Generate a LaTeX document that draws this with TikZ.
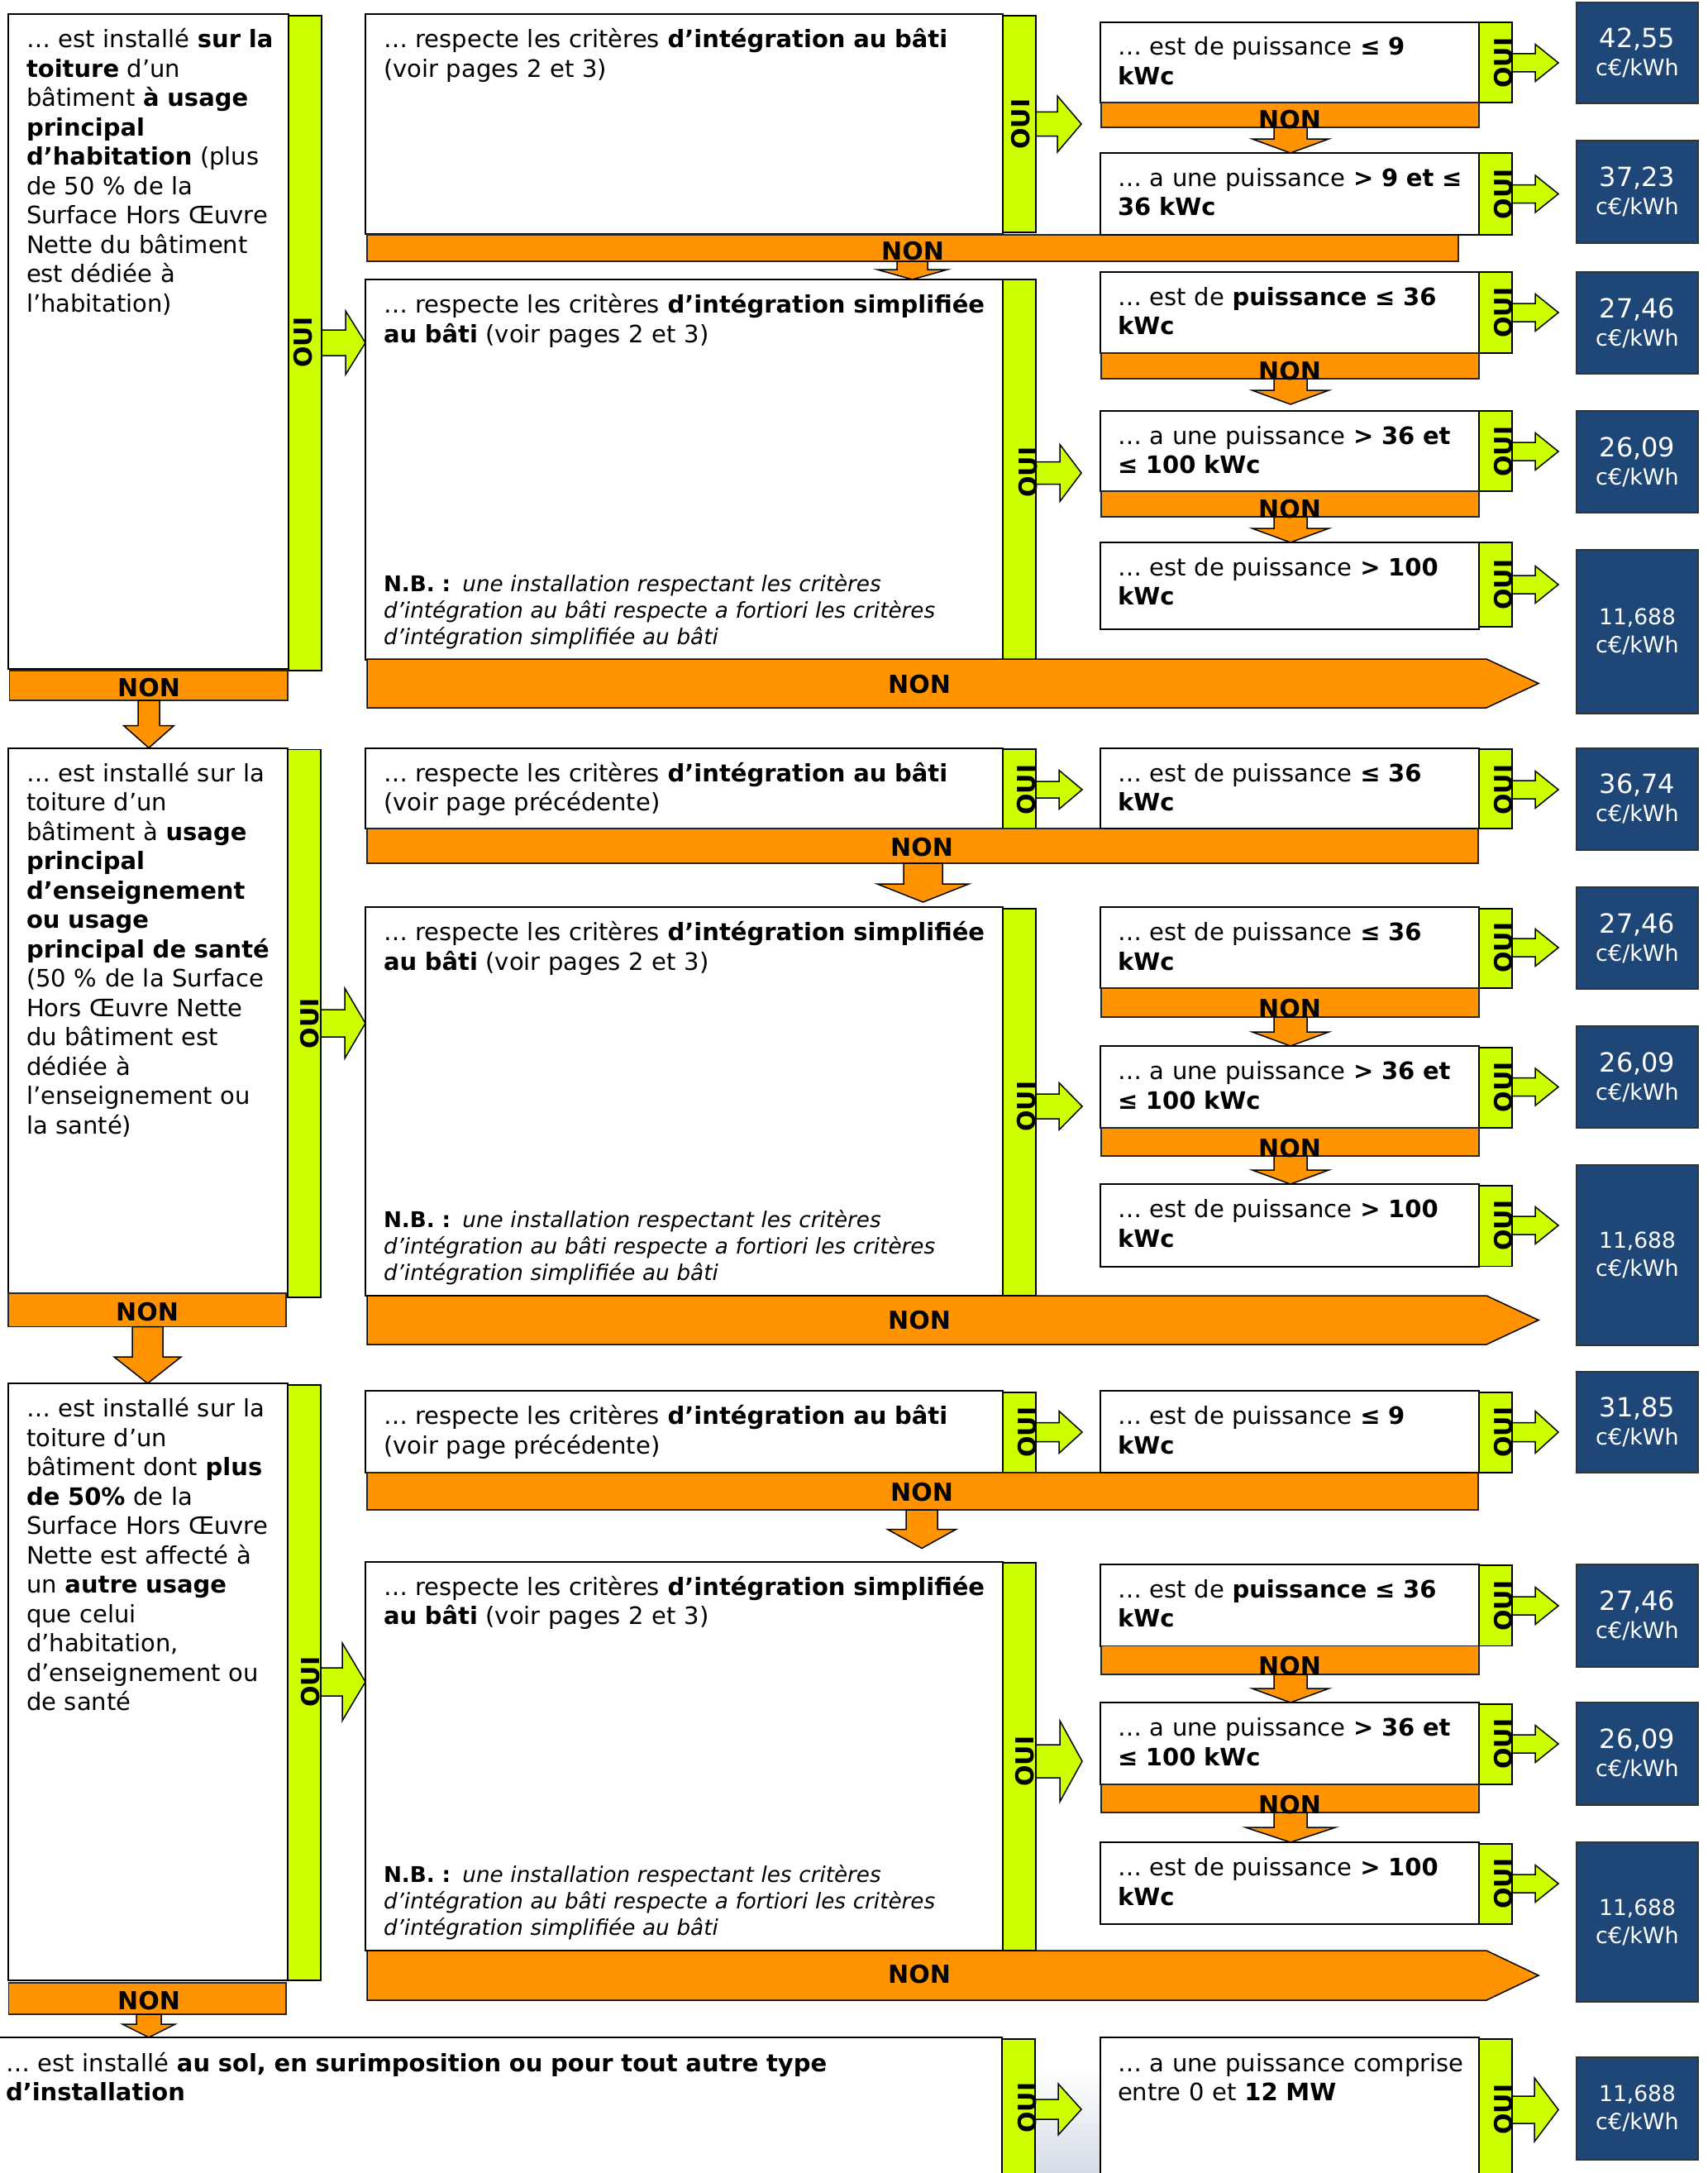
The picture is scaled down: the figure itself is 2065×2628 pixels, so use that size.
\documentclass[tikz,border=0pt]{standalone}
\usepackage{fontspec}
\setmainfont{DejaVu Sans}
\usetikzlibrary{calc}
\definecolor{orng}{RGB}{255,148,0}
\definecolor{limeg}{RGB}{204,255,0}
\definecolor{navyb}{RGB}{30,70,118}
\definecolor{bgblue}{RGB}{214,221,231}
\tikzset{
  boxst/.style={rectangle, draw=black, line width=2pt, fill=white, inner sep=0pt, outer sep=0pt, anchor=north west},
  gbar/.style={rectangle, draw=black, line width=1.8pt, fill=limeg, inner sep=0pt, outer sep=0pt, anchor=north west},
  obar/.style={rectangle, draw=black!85, line width=1.6pt, fill=orng, inner sep=0pt, outer sep=0pt, anchor=north west},
  pbox/.style={rectangle, draw=black!80, line width=2pt, fill=navyb, inner sep=0pt, outer sep=0pt, anchor=north west},
  txt/.style={font=\fontsize{29}{35.5}\selectfont, align=left, text width=1150pt, inner sep=0pt, outer sep=0pt, anchor=north west},
  nbtxt/.style={font=\fontsize{26.2}{32.3}\selectfont, align=left, text width=1000pt, inner sep=0pt, outer sep=0pt, anchor=north west},
  ptxt/.style={font=\fontsize{27}{34}\selectfont, text=white, align=center, text width=147pt, inner sep=0pt},
  ouist/.style={font=\bfseries\fontsize{30}{30}\selectfont, rotate=90, anchor=base, inner sep=0pt},
  nonst/.style={font=\bfseries\fontsize{30}{30}\selectfont, anchor=base, inner sep=0pt},
  garr/.style={draw=black, line width=1.5pt, fill=limeg, line join=miter},
  oarr/.style={draw=black, line width=1.5pt, fill=orng, line join=miter},
}
% rectangle node: style, x1, y1, x2, y2, name
\newcommand\mkrect[6]{\node[#1, minimum width={#4-(#2)}, minimum height={#5-(#3)}] (#6) at (#2,#3) {};}
% text block: name, x, first baseline, text
\newcommand\mktxt[4]{\node[txt] (#1) at (#2,#3-24.85) {\strut #4};}
% N.B. block: name, x, first baseline
\newcommand\mknb[3]{\node[nbtxt] (#1) at (#2,#3-22.61) {\strut\textbf{N.B. :}\hspace{0.55em}\textit{une installation respectant les critères}\\\textit{d’intégration au bâti respecte a fortiori les critères}\\\textit{d’intégration simplifiée au bâti}};}
% price box: name, top, bottom, value, value size
\newcommand\mkprice[5]{\node[pbox, minimum width=147, minimum height={#3-(#2)}] (#1) at (1907,#2) {};
  \node[ptxt] (#1t) at (#1.center) {{\fontsize{#5}{34}\selectfont #4}\\c€/kWh};}
\newcommand\mkoui[3]{\node[ouist] (#1) at (#2,#3) {OUI};}
\newcommand\mknon[3]{\node[nonst] (#1) at (#2,#3) {NON};}
% green arrow to the right: from, to, yc, shaft half, head half, head length, gap
\newcommand\garrowR[7]{\draw[garr] let \p1=(#1.east |- 0,#3), \p2=(#2.west |- 0,#3) in
  (\x1,\y1+#4pt) -- (\x2-#7pt-#6pt,\y1+#4pt) -- (\x2-#7pt-#6pt,\y1+#5pt) -- (\x2-#7pt,\y1)
  -- (\x2-#7pt-#6pt,\y1-#5pt) -- (\x2-#7pt-#6pt,\y1-#4pt) -- (\x1,\y1-#4pt) -- cycle;}
% orange arrow downwards: from, to, xc, shaft half, head half, head length, gap
\newcommand\oarrowD[7]{\draw[oarr] let \p1=(#1.south -| #3,0), \p2=(#2.north -| #3,0) in
  (\x1-#4pt,\y1) -- (\x1-#4pt,\y2+#7pt+#6pt) -- (\x1-#5pt,\y2+#7pt+#6pt) -- (\x1,\y2+#7pt)
  -- (\x1+#5pt,\y2+#7pt+#6pt) -- (\x1+#4pt,\y2+#7pt+#6pt) -- (\x1+#4pt,\y1) -- cycle;}
% big NON arrow: name, top, bottom, text baseline
\newcommand\bignon[4]{\draw[oarr] (444,#2) -- (1798,#2) -- (1861,{(#2+#3)/2}) -- (1798,#3) -- (444,#3) -- cycle;
  \node[nonst] (#1) at (1112,#4) {NON};}
\newcommand\rarr[3]{\garrowR{#1}{#2}{#3}{11}{22.5}{28}{22}}
\newcommand\rdown[3]{\oarrowD{#1}{#2}{1561}{20}{46.5}{17}{#3}}

\begin{document}
\begin{tikzpicture}[x=1pt,y=-1pt]
\useasboundingbox (0,0) rectangle (2065,2628);
\clip (0,0) rectangle (2065,2628);
\fill[white] (0,0) rectangle (2065,2628);
\shade[top color=white, bottom color=bgblue] (1252,2500) rectangle (1331,2628);

% ================= boxes and bars =================
% Section 1
\mkrect{boxst}{10}{17}{349}{809}{lbox1}
\mkrect{gbar}{349}{19}{389}{811}{lbar1}
\mkrect{obar}{11.5}{811}{348}{847}{lnon1}
\mkrect{boxst}{442}{17}{1213}{283}{mb1}
\mkrect{gbar}{1213}{19}{1253}{281}{mbar1a}
\mkrect{obar}{444}{284}{1764}{316}{mnon1}
\mkrect{boxst}{442}{338}{1213}{798}{ms1}
\mkrect{gbar}{1213}{338}{1253}{798}{mbar1b}
\mkrect{boxst}{1331}{27}{1789}{124}{r1a}
\mkrect{gbar}{1789}{27}{1829}{124}{rb1a}
\mkrect{obar}{1332}{124}{1789}{154}{rn1a}
\mkrect{boxst}{1331}{185}{1789}{284}{r1b}
\mkrect{gbar}{1789}{185}{1829}{284}{rb1b}
\mkrect{boxst}{1331}{329}{1789}{427}{r1c}
\mkrect{gbar}{1789}{329}{1829}{427}{rb1c}
\mkrect{obar}{1332}{427}{1789}{458}{rn1c}
\mkrect{boxst}{1331}{497}{1789}{594}{r1d}
\mkrect{gbar}{1789}{497}{1829}{594}{rb1d}
\mkrect{obar}{1332}{594}{1789}{625}{rn1d}
\mkrect{boxst}{1331}{656}{1789}{761}{r1e}
\mkrect{gbar}{1789}{656}{1829}{758}{rb1e}
\mkprice{p1a}{3}{125}{42,55}{32}
\mkprice{p1b}{170}{294}{37,23}{32}
\mkprice{p1c}{329}{452}{27,46}{32}
\mkprice{p1d}{497}{620}{26,09}{32}
\mkprice{p1e}{665}{863}{11,688}{26.5}
% Section 2
\mkrect{boxst}{10}{904.5}{348}{1564}{lbox2}
\mkrect{gbar}{348}{906.5}{388}{1569}{lbar2}
\mkrect{obar}{10}{1564}{346}{1604.5}{lnon2}
\mkrect{boxst}{442}{904.5}{1213}{1002}{mb2}
\mkrect{gbar}{1213}{906}{1253}{1002}{mbar2a}
\mkrect{obar}{444}{1002}{1788}{1044}{mnon2}
\mkrect{boxst}{442}{1097}{1213}{1567}{ms2}
\mkrect{gbar}{1213}{1099}{1253}{1567}{mbar2b}
\mkrect{boxst}{1331}{904.5}{1789}{1002}{r2a}
\mkrect{gbar}{1789}{906}{1829}{1002}{rb2a}
\mkrect{boxst}{1331}{1097}{1789}{1195}{r2b}
\mkrect{gbar}{1789}{1099}{1829}{1195}{rb2b}
\mkrect{obar}{1332}{1195}{1789}{1230}{rn2b}
\mkrect{boxst}{1331}{1265}{1789}{1364}{r2c}
\mkrect{gbar}{1789}{1267}{1829}{1364}{rb2c}
\mkrect{obar}{1332}{1364}{1789}{1398}{rn2c}
\mkrect{boxst}{1331}{1432}{1789}{1531.5}{r2d}
\mkrect{gbar}{1789}{1434}{1829}{1531.5}{rb2d}
\mkprice{p2a}{904.5}{1028}{36,74}{32}
\mkprice{p2b}{1073}{1196}{27,46}{32}
\mkprice{p2c}{1241}{1364}{26,09}{32}
\mkprice{p2d}{1409}{1627}{11,688}{26.5}
% Section 3
\mkrect{boxst}{10}{1673}{348}{2395}{lbox3}
\mkrect{gbar}{348}{1675}{388}{2395}{lbar3}
\mkrect{obar}{10.5}{2398}{346}{2436}{lnon3}
\mkrect{boxst}{442}{1682}{1213}{1781}{mb3}
\mkrect{gbar}{1213}{1684}{1253}{1781}{mbar3a}
\mkrect{obar}{444}{1781}{1788}{1826}{mnon3}
\mkrect{boxst}{442}{1888.5}{1213}{2359}{ms3}
\mkrect{gbar}{1213}{1890}{1253}{2359}{mbar3b}
\mkrect{boxst}{1331}{1682}{1789}{1781}{r3a}
\mkrect{gbar}{1789}{1684}{1829}{1781}{rb3a}
\mkrect{boxst}{1331}{1891.5}{1789}{1990.5}{r3b}
\mkrect{gbar}{1789}{1893}{1829}{1990.5}{rb3b}
\mkrect{obar}{1332}{1990.5}{1789}{2025}{rn3b}
\mkrect{boxst}{1331}{2059}{1789}{2158}{r3c}
\mkrect{gbar}{1789}{2061}{1829}{2158}{rb3c}
\mkrect{obar}{1332}{2158}{1789}{2192}{rn3c}
\mkrect{boxst}{1331}{2228}{1789}{2327}{r3d}
\mkrect{gbar}{1789}{2230}{1829}{2327}{rb3d}
\mkprice{p3a}{1659}{1781}{31,85}{32}
\mkprice{p3b}{1891.5}{2016}{27,46}{32}
\mkprice{p3c}{2059}{2183}{26,09}{32}
\mkprice{p3d}{2228}{2421}{11,688}{26.5}
% Section 4
\mkrect{boxst}{-3}{2464}{1212}{2640}{s4}
\mkrect{gbar}{1212}{2466}{1252}{2640}{mbar4}
\mkrect{boxst}{1331}{2464}{1789}{2640}{r4}
\mkrect{gbar}{1789}{2466}{1829}{2640}{rb4}
\mkprice{p4}{2488}{2612}{11,688}{26.5}

% ================= big NON arrows =================
\bignon{bnon1}{797}{856}{838}
\bignon{bnon2}{1567}{1626}{1607}
\bignon{bnon3}{2359}{2419}{2398}

% ================= OUI arrows =================
\garrowR{lbar1}{ms1}{414.5}{15.5}{38.5}{24}{0}
\garrowR{mbar1a}{r1a}{150}{14.5}{34}{29}{23}
\garrowR{mbar1b}{r1c}{572}{13.5}{34.5}{26}{23}
\rarr{rb1a}{p1a}{76}
\rarr{rb1b}{p1b}{234.5}
\rarr{rb1c}{p1c}{378}
\rarr{rb1d}{p1d}{546}
\rarr{rb1e}{p1e}{707}
\garrowR{lbar2}{ms2}{1237.5}{16.5}{42.5}{25}{0}
\garrowR{mbar2a}{r2a}{955}{10}{23.5}{28}{22}
\garrowR{mbar2b}{r2b}{1338}{15}{28.5}{28}{22}
\rarr{rb2a}{p2a}{955}
\rarr{rb2b}{p2b}{1146}
\rarr{rb2c}{p2c}{1314.5}
\rarr{rb2d}{p2d}{1482}
\garrowR{lbar3}{ms3}{2034}{17}{47}{28}{0}
\garrowR{mbar3a}{r3a}{1732}{11.5}{25.5}{28}{22}
\garrowR{mbar3b}{r3b}{2130}{20}{49}{27}{22}
\garrowR{rb3a}{p3a}{1732}{11.5}{25.5}{28}{22}
\rarr{rb3b}{p3b}{1942}
\rarr{rb3c}{p3c}{2109}
\rarr{rb3d}{p3d}{2278}
\garrowR{mbar4}{r4}{2551}{12}{31}{28}{23}
\garrowR{rb4}{p4}{2551.5}{16.5}{38.5}{29}{22}

% ================= NON arrows =================
\oarrowD{lnon1}{lbox2}{180}{13}{30.5}{27}{0}
\oarrowD{mnon1}{ms1}{1103.5}{18.5}{42.5}{12}{0}
\rdown{rn1a}{r1b}{0}
\rdown{rn1c}{r1d}{8}
\rdown{rn1d}{r1e}{0}
\oarrowD{lnon2}{lbox3}{178.5}{18.5}{40.5}{32}{0}
\oarrowD{mnon2}{ms2}{1116.5}{23.5}{55.5}{22}{6}
\rdown{rn2b}{r2c}{0}
\rdown{rn2c}{r2d}{0}
\oarrowD{lnon3}{s4}{180}{15}{32}{16}{0}
\oarrowD{mnon3}{ms3}{1115}{19}{41.5}{23}{16}
\rdown{rn3b}{r3c}{0}
\oarrowD{rn3c}{r3d}{1561}{20}{54.5}{18}{0}

% ================= texts =================
\mktxt{t1l}{32}{58}{… est installé \textbf{sur la}\\\textbf{toiture} d’un\\bâtiment \textbf{à usage}\\\textbf{principal}\\\textbf{d’habitation} (plus\\de 50 \% de la\\Surface Hors Œuvre\\Nette du bâtiment\\est dédiée à\\l’habitation)}
\mktxt{t1m}{464}{58}{… respecte les critères \textbf{d’intégration au bâti}\\(voir pages 2 et 3)}
\mktxt{t1s}{464}{378.5}{… respecte les critères \textbf{d’intégration simplifiée}\\\textbf{au bâti} (voir pages 2 et 3)}
\mknb{nb1}{464}{715}
\mktxt{t1ra}{1352}{67}{… est de puissance \textbf{≤ 9}\\\textbf{kWc}}
\mktxt{t1rb}{1352}{225}{… a une puissance \textbf{> 9 et ≤}\\\textbf{36 kWc}}
\mktxt{t1rc}{1352}{369}{… est de \textbf{puissance ≤ 36}\\\textbf{kWc}}
\mktxt{t1rd}{1352}{537}{… a une puissance \textbf{> 36 et}\\\textbf{≤ 100 kWc}}
\mktxt{t1re}{1352}{696}{… est de puissance \textbf{> 100}\\\textbf{kWc}}
\mkoui{o1l}{377.5}{414}
\mkoui{o1m}{1245}{150}
\mkoui{o1s}{1254}{571}
\mkoui{o1ra}{1829}{76}
\mkoui{o1rb}{1829}{234.5}
\mkoui{o1rc}{1829}{378}
\mkoui{o1rd}{1829}{546}
\mkoui{o1re}{1829}{707}
\mknon{n1l}{180}{842}
\mknon{n1m}{1104}{314}
\mknon{n1ra}{1560}{156}
\mknon{n1rc}{1560}{459}
\mknon{n1rd}{1560}{626}

\mktxt{t2l}{32}{945}{… est installé sur la\\toiture d’un\\bâtiment à \textbf{usage}\\\textbf{principal}\\\textbf{d’enseignement}\\\textbf{ou usage}\\\textbf{principal de santé}\\(50 \% de la Surface\\Hors Œuvre Nette\\du bâtiment est\\dédiée à\\l’enseignement ou\\la santé)}
\mktxt{t2m}{464}{945}{… respecte les critères \textbf{d’intégration au bâti}\\(voir page précédente)}
\mktxt{t2s}{464}{1137.5}{… respecte les critères \textbf{d’intégration simplifiée}\\\textbf{au bâti} (voir pages 2 et 3)}
\mknb{nb2}{464}{1484}
\mktxt{t2ra}{1352}{945}{… est de puissance \textbf{≤ 36}\\\textbf{kWc}}
\mktxt{t2rb}{1352}{1137.5}{… est de puissance \textbf{≤ 36}\\\textbf{kWc}}
\mktxt{t2rc}{1352}{1305.5}{… a une puissance \textbf{> 36 et}\\\textbf{≤ 100 kWc}}
\mktxt{t2rd}{1352}{1472.5}{… est de puissance \textbf{> 100}\\\textbf{kWc}}
\mkoui{o2l}{385.5}{1237.5}
\mkoui{o2m}{1252}{955}
\mkoui{o2s}{1252}{1338}
\mkoui{o2ra}{1829}{955}
\mkoui{o2rb}{1829}{1146}
\mkoui{o2rc}{1829}{1314.5}
\mkoui{o2rd}{1829}{1482}
\mknon{n2l}{178}{1597}
\mknon{n2m}{1115}{1035}
\mknon{n2rb}{1560}{1230}
\mknon{n2rc}{1560}{1399}

\mktxt{t3l}{32}{1713.5}{… est installé sur la\\toiture d’un\\bâtiment dont \textbf{plus}\\\textbf{de 50\%} de la\\Surface Hors Œuvre\\Nette est affecté à\\un \textbf{autre usage}\\que celui\\d’habitation,\\d’enseignement ou\\de santé}
\mktxt{t3m}{464}{1722.5}{… respecte les critères \textbf{d’intégration au bâti}\\(voir page précédente)}
\mktxt{t3s}{464}{1929}{… respecte les critères \textbf{d’intégration simplifiée}\\\textbf{au bâti} (voir pages 2 et 3)}
\mknb{nb3}{464}{2276}
\mktxt{t3ra}{1352}{1722.5}{… est de puissance \textbf{≤ 9}\\\textbf{kWc}}
\mktxt{t3rb}{1352}{1932}{… est de \textbf{puissance ≤ 36}\\\textbf{kWc}}
\mktxt{t3rc}{1352}{2099.5}{… a une puissance \textbf{> 36 et}\\\textbf{≤ 100 kWc}}
\mktxt{t3rd}{1352}{2268.5}{… est de puissance \textbf{> 100}\\\textbf{kWc}}
\mkoui{o3l}{386}{2034}
\mkoui{o3m}{1253}{1732}
\mkoui{o3s}{1250}{2130}
\mkoui{o3ra}{1829}{1732}
\mkoui{o3rb}{1829}{1942}
\mkoui{o3rc}{1829}{2109}
\mkoui{o3rd}{1829}{2278}
\mknon{n3l}{180}{2430}
\mknon{n3m}{1115}{1815}
\mknon{n3rb}{1560}{2025}
\mknon{n3rc}{1560}{2193}

\mktxt{t4l}{7}{2505}{… est installé \textbf{au sol, en surimposition ou pour tout autre type}\\\textbf{d’installation}}
\mktxt{t4r}{1352}{2505}{… a une puissance comprise\\entre 0 et \textbf{12 MW}}
\mkoui{o4m}{1253}{2549}
\mkoui{o4r}{1829}{2551}
\end{tikzpicture}
\end{document}
